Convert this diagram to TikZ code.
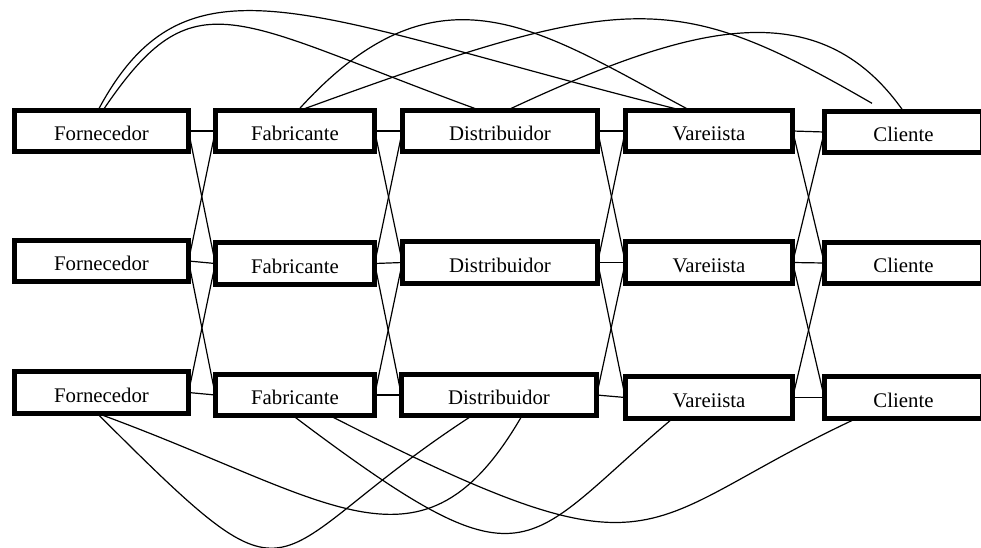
\documentclass[tikz,border=0pt]{standalone}
\usepackage{fontspec}
\setmainfont{Liberation Serif}
\tikzset{
  caixa/.style={draw, line width=3.7pt, outer sep=0pt, inner sep=0pt,
    minimum height=31pt, text height=14.5pt, text depth=0pt,
    font=\fontsize{15.6}{18}\selectfont},
  forn/.style={caixa, minimum width=130.5pt},
  fabr/.style={caixa, minimum width=119.5pt},
  dist/.style={caixa, minimum width=146.5pt},
  vare/.style={caixa, minimum width=125.5pt},
  clie/.style={caixa, minimum width=118.75pt},
  liga/.style={line width=0.9pt}
}
\begin{document}
\begin{tikzpicture}[x=0.75pt,y=0.75pt]
    \useasboundingbox (0,0) rectangle (981,-547);
    % caixas
    \node[forn] (forn1) at (101.5,-131) {Fornecedor};
    \node[forn] (forn2) at (101.5,-261) {Fornecedor};
    \node[forn] (forn3) at (101.5,-392.5) {Fornecedor};
    \node[fabr] (fabr1) at (295,-131) {Fabricante};
    \node[fabr] (fabr2) at (295,-263.5) {Fabricante};
    \node[fabr] (fabr3) at (295,-395) {Fabricante};
    \node[dist] (dist1) at (500,-131) {Distribuidor};
    \node[dist] (dist2) at (500,-262.5) {Distribuidor};
    \node[dist] (dist3) at (499,-395) {Distribuidor};
    \node[vare] (vare1) at (709,-131) {Vareiista};
    \node[vare] (vare2) at (709,-262.5) {Vareiista};
    \node[vare] (vare3) at (709,-397.5) {Vareiista};
    \node[clie] (clie1) at (903.5,-132) {Cliente};
    \node[clie] (clie2) at (903.5,-263) {Cliente};
    \node[clie] (clie3) at (903.5,-397.5) {Cliente};
    % ligacoes entre colunas vizinhas
    \foreach \a/\b in {forn/fabr,fabr/dist,dist/vare,vare/clie}
      \foreach \i/\j in {1/1,2/2,3/3,1/2,2/1,2/3,3/2}
        \draw[liga] (\a\i.east) -- (\b\j.west);
    % arcos de cima
    \draw[liga] ([xshift=1.1pt]forn1.north) .. controls +(56:165) and +(160:265) .. ([xshift=-15pt]dist1.north);
    \draw[liga] ([xshift=-2.6pt]forn1.north) .. controls +(62:190) and +(166:385) .. ([xshift=-20.25pt]vare1.north);
    \draw[liga] ([xshift=2.25pt]fabr1.north) .. controls +(48:210) and +(152:170) .. ([xshift=-14.25pt]vare1.north);
    \draw[liga] ([xshift=3.75pt]fabr1.north) .. controls +(20:350) and +(150:230) .. ([xshift=-23.6pt,yshift=6pt]clie1.north);
    \draw[liga] ([xshift=5.25pt]dist1.north) .. controls +(25:200) and +(125:150) .. (clie1.north);
    % arcos de baixo
    \draw[liga] ([xshift=-3.4pt]forn3.south) .. controls +(-45:300) and +(-147:260) .. ([xshift=-20.25pt]dist3.south);
    \draw[liga] ([xshift=-3.4pt]forn3.south) .. controls +(-20:250) and +(-120:200) .. ([xshift=17.25pt]dist3.south);
    \draw[liga] ([xshift=-1.5pt]fabr3.south) .. controls +(-37:300) and +(-140:200) .. ([xshift=-27pt]vare3.south);
    \draw[liga] ([xshift=26.25pt]fabr3.south) .. controls +(-27:380) and +(-155:250) .. ([xshift=-34.9pt]clie3.south);
\end{tikzpicture}
\end{document}
